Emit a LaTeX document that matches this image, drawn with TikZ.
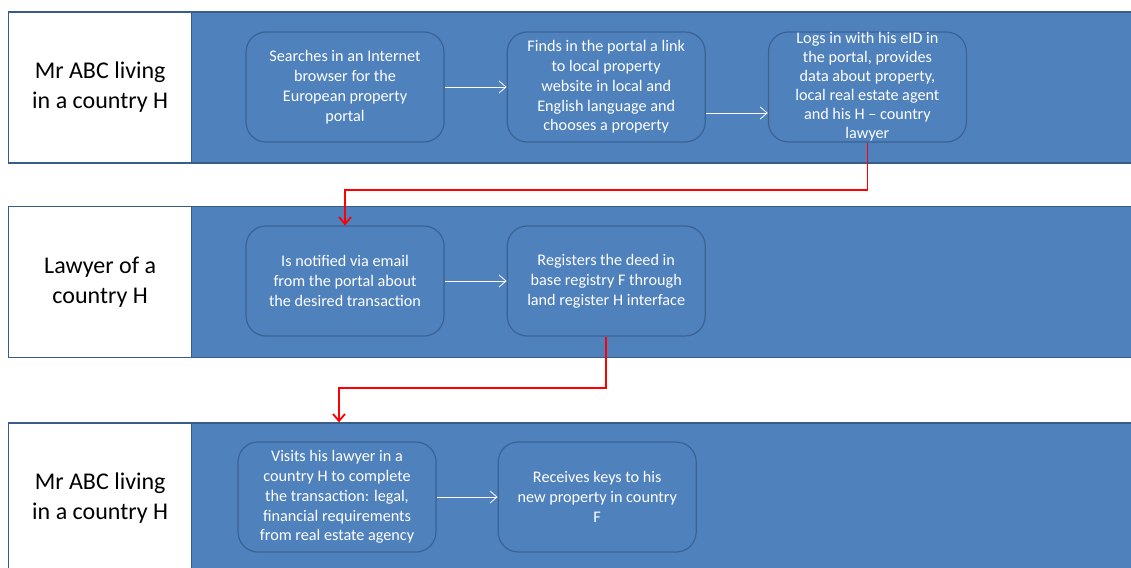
\documentclass[tikz,border=0pt]{standalone}
\usepackage{fontspec}
\setmainfont{Carlito}
\usetikzlibrary{positioning,arrows.meta}
\definecolor{laneblue}{HTML}{4F81BD}
\definecolor{laneedge}{HTML}{385D8A}
\definecolor{taskedge}{HTML}{3A6395}
\begin{document}
\begin{tikzpicture}[x=1pt, y=-1pt,
            lane/.style={rectangle, draw=laneedge, line width=1.3pt, fill=laneblue, minimum width=1140pt, minimum height=151pt, anchor=west, inner sep=0pt},
            actor/.style={rectangle, draw=laneedge, line width=1.3pt, fill=white, minimum width=183pt, minimum height=151pt, anchor=west, align=center, inner sep=0pt, font=\fontsize{24}{30}\selectfont},
            task/.style={rectangle, rounded corners=20pt, draw=taskedge, line width=1.2pt, fill=laneblue, minimum width=198pt, minimum height=110pt, inner sep=0pt, align=center, text=white, font=\fontsize{16.2}{19.8}\selectfont},
            flow/.style={draw=white, line width=0.8pt, -{Straight Barb[length=7pt,width=12pt]}},
            handoff/.style={draw=red, line width=1.8pt, -{Straight Barb[length=7pt,width=12pt]}}
        ]
        \useasboundingbox (0,0) rectangle (1131,567);
        % swimlanes
        \node[lane] (lane1) at (8,87.5) {};
        \node[lane] (lane2) at (8,282) {};
        \node[lane] (lane3) at (8,498.5) {};
        \node[actor] (buyer1) at (8,87.5) {Mr ABC living\\in a country H};
        \node[actor] (lawyer) at (8,282) {Lawyer of a\\country H};
        \node[actor] (buyer2) at (8,498.5) {Mr ABC living\\in a country H};
        % first lane
        \node[task] (search) at (345,87) {Searches in an Internet\\browser for the\\European property\\portal};
        \node[task, right=62pt of search] (link) {Finds in the portal a link\\to local property\\website in local and\\English language and\\chooses a property};
        \node[task, right=62pt of link, font=\fontsize{16.2}{19}\selectfont] (login) {Logs in with his eID in\\the portal, provides\\data about property,\\local real estate agent\\and his H -- country\\lawyer};
        % second lane
        \node[task] (notify) at (345,281) {Is notified via email\\from the portal about\\the desired transaction};
        \node[task, right=62pt of notify] (deed) {Registers the deed in\\base registry F through\\land register H interface};
        % third lane
        \node[task] (visit) at (337,497) {Visits his lawyer in a\\country H to complete\\the transaction: legal,\\financial requirements\\from real estate agency};
        \node[task, right=61pt of visit] (keys) {Receives keys to his\\new property in country\\F};
        \draw[flow] (search) -- (link);
        \draw[flow] ([yshift=-26pt]link.east) -- ([yshift=-26pt]login.west);
        \draw[flow] (notify) -- (deed);
        \draw[flow] (visit) -- (keys);
        \draw[handoff] (login.south) -- ++(0,47) -| (notify.north);
        \draw[handoff] (deed.south) -- ++(0,51) -| ([xshift=2pt]visit.north |- lane3.north);
        \end{tikzpicture}
\end{document}
